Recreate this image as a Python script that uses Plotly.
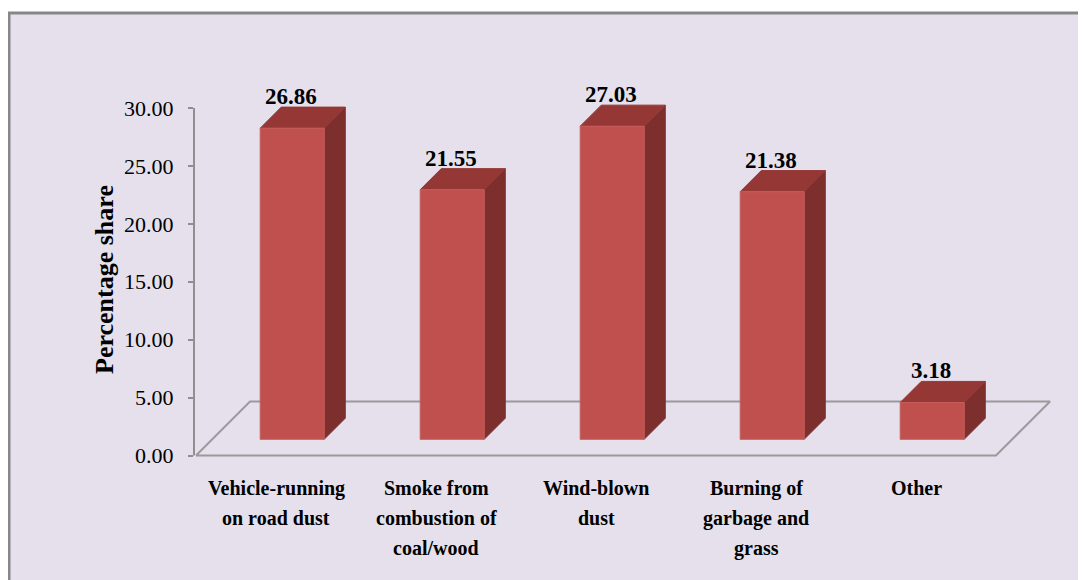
import plotly.graph_objects as go

# ---------------- data ----------------
categories = [
    "Vehicle-running<br>on road dust",
    "Smoke from<br>combustion of<br>coal/wood",
    "Wind-blown<br>dust",
    "Burning of<br>garbage and<br>grass",
    "Other",
]
values = [26.86, 21.55, 27.03, 21.38, 3.18]
tick_vals = [0, 5, 10, 15, 20, 25, 30]
tick_text = ["0.00", "5.00", "10.00", "15.00", "20.00", "25.00", "30.00"]
y_title = "Percentage share"

# ---------------- style / layout ----------------
FRONT = "#C0504D"
TOP = "#943735"
SIDE = "#7C2F2D"
EDGE = "#C85E5B"
BG = "#E5E0EC"
GRID = "#8F8F8F"
FONT = "Liberation Serif, Times New Roman, serif"

PAGE_OFF = 8                       # default body margin of the html page
W, H = 1086 - PAGE_OFF, 580 - PAGE_OFF
# plot area in page pixels
PL, PR, PT, PB = 194, 1060, 90, 470
ML, MT = PL - PAGE_OFF, PT - PAGE_OFF
MR, MB = W - (PR - PAGE_OFF), H - (PB - PAGE_OFF)
PLOT_W = PR - PL
PLOT_H = PB - PT
PX_PER_CAT = 160.0
PX_PER_UNIT = 11.583
ZERO_PX = 455.5            # page row of value 0
FLOOR_LEFT_PX = 196        # page column of the floor's front-left corner

x_lo = -0.5 - (FLOOR_LEFT_PX - PL) / PX_PER_CAT
x_hi = x_lo + PLOT_W / PX_PER_CAT
y_lo = -(PB - ZERO_PX) / PX_PER_UNIT
y_hi = y_lo + PLOT_H / PX_PER_UNIT

DEPTH_PX = 54
DX = DEPTH_PX / PX_PER_CAT
DY = DEPTH_PX / PX_PER_UNIT
F0, F1 = 0.30, 0.69        # bar front / back depth fractions
HW = 0.2                   # half bar width (category units)

fig = go.Figure()

# floor
n = len(categories)
fx = [-0.5, n - 0.5, n - 0.5 + DX, -0.5 + DX, -0.5]
fy = [0, 0, DY, DY, 0]
fig.add_trace(go.Scatter(x=fx, y=fy, mode="lines",
                         line=dict(color="#9A9A9A", width=2),
                         hoverinfo="skip", showlegend=False))

ddx = (F1 - F0) * DX
ddy = (F1 - F0) * DY
annotations = []
for i, v in enumerate(values):
    cx = i + F0 * DX
    base = F0 * DY
    top = base + v
    front = ([cx - HW, cx + HW, cx + HW, cx - HW, cx - HW],
             [base, base, top, top, base])
    topf = ([cx - HW, cx + HW, cx + HW + ddx, cx - HW + ddx, cx - HW],
            [top, top, top + ddy, top + ddy, top])
    side = ([cx + HW, cx + HW + ddx, cx + HW + ddx, cx + HW, cx + HW],
            [base, base + ddy, top + ddy, top, base])
    for (xs, ys), col, lc in ((side, SIDE, SIDE), (topf, TOP, TOP), (front, FRONT, EDGE)):
        fig.add_trace(go.Scatter(x=xs, y=ys, mode="lines", fill="toself",
                                 fillcolor=col, line=dict(color=lc, width=1),
                                 hoverinfo="skip", showlegend=False))
    annotations.append(dict(x=cx - 0.01, y=top + ddy, xref="x", yref="y",
                            text=f"<b>{v:.2f}</b>", showarrow=False,
                            yanchor="bottom", xanchor="center", yshift=-4,
                            font=dict(family=FONT, size=23, color="black")))

# category labels (one annotation per line for Excel-like spacing)
for i, cat in enumerate(categories):
    for j, line in enumerate(cat.split("<br>")):
        annotations.append(dict(x=i, y=0, xref="x", yref="y",
                                text=f"<b>{line}</b>", showarrow=False,
                                xanchor="center", yanchor="middle",
                                yshift=-(32.5 + 30 * j),
                                font=dict(family=FONT, size=20, color="black")))

# y-axis title
annotations.append(dict(x=(104 - PL) / PLOT_W, y=(ZERO_PX - 280) / PX_PER_UNIT,
                        xref="paper", yref="y", text=f"<b>{y_title}</b>",
                        showarrow=False, textangle=-90,
                        xanchor="center", yanchor="middle",
                        font=dict(family=FONT, size=26, color="black")))

shapes = [
    # outer chart border / background
    dict(type="rect", xref="paper", yref="paper", layer="below",
         x0=(9 - PL) / PLOT_W, x1=(1110 - PL) / PLOT_W,
         y0=(PB - 13) / PLOT_H, y1=(PB - 620) / PLOT_H,
         fillcolor=BG, line=dict(color="#878787", width=3)),
    # y-axis line from 0 to 30
    dict(type="line", xref="paper", yref="y", x0=0, x1=0,
         y0=tick_vals[0], y1=tick_vals[-1],
         line=dict(color=GRID, width=2)),
]

fig.update_layout(
    width=W, height=H,
    margin=dict(l=ML, r=MR, t=MT, b=MB),
    paper_bgcolor="white",
    plot_bgcolor="rgba(0,0,0,0)",
    showlegend=False,
    annotations=annotations,
    shapes=shapes,
    xaxis=dict(range=[x_lo, x_hi], visible=False, fixedrange=True),
    yaxis=dict(range=[y_lo, y_hi], tickvals=tick_vals, ticktext=tick_text,
               ticks="outside", ticklen=5, tickwidth=1.5, tickcolor=GRID,
               showgrid=False, zeroline=False, showline=False,
               ticklabelstandoff=10,
               tickfont=dict(family=FONT, size=22, color="black"),
               fixedrange=True),
)

fig.write_html("out.html")
